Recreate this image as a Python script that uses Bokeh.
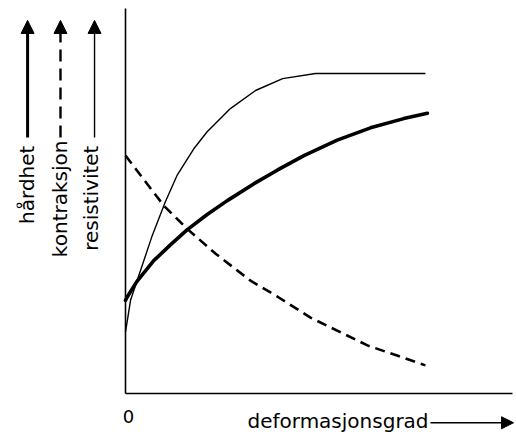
from bokeh.plotting import figure
from bokeh.models import Label, Arrow, NormalHead, FixedTicker, Range1d, LinearAxis
from bokeh.embed import file_html
from bokeh.resources import INLINE

# --- data (arbitrary units 0..10) ---
thin_x = [0.0, 0.04, 0.13, 0.34, 0.69, 1.03, 1.34, 1.76, 2.11, 2.71, 3.36, 4.06, 4.91, 7.75]
thin_y = [1.60, 1.85, 2.42, 3.05, 4.10, 4.98, 5.68, 6.35, 6.80, 7.40, 7.87, 8.18, 8.31, 8.31]

thick_x = [0.0, 0.04, 0.30, 0.73, 1.16, 1.59, 2.11, 2.63, 3.32, 3.92, 4.61, 5.47, 6.33, 7.19, 7.80]
thick_y = [2.42, 2.50, 2.92, 3.45, 3.86, 4.25, 4.65, 5.01, 5.45, 5.80, 6.18, 6.58, 6.90, 7.14, 7.28]

dash_x = [0.0, 0.99, 1.59, 2.33, 3.23, 3.92, 4.78, 6.25, 7.75]
dash_y = [6.18, 4.88, 4.28, 3.63, 2.93, 2.52, 1.97, 1.25, 0.73]

y_labels = ["hårdhet", "kontraksjon", "resistivitet"]
x_label = "deformasjonsgrad"
zero_label = "0"

FONT = "DejaVu Sans"

p = figure(width=516, height=435, output_backend="svg", toolbar_location=None,
           x_range=Range1d(-2.8165, 10.103), y_range=Range1d(-1.0909, 10.052),
           x_axis_location=None, y_axis_location=None,
           min_border_left=16, min_border_right=0, min_border_top=6,
           min_border_bottom=0)
p.outline_line_color = None
p.grid.visible = False
p.background_fill_color = "white"
p.border_fill_color = "white"

yax = LinearAxis(fixed_location=0, bounds=(0, 10), ticker=FixedTicker(ticks=[]))
xax = LinearAxis(fixed_location=0, bounds=(0, 10), ticker=FixedTicker(ticks=[]))
for ax in (xax, yax):
    ax.axis_line_width = 1.6
    ax.axis_line_color = "black"
    ax.major_tick_line_color = None
    ax.minor_tick_line_color = None
    ax.major_tick_out = 0
    ax.major_tick_in = 0
    ax.major_label_standoff = 0
    ax.major_label_text_font_size = "1px"
    ax.major_label_text_color = None
p.add_layout(yax, "left")
p.add_layout(xax, "above")

# curves
p.line(thin_x, thin_y, line_width=1.4, line_color="black", line_join="round")
p.line(thick_x, thick_y, line_width=3.6, line_color="black", line_join="round", line_cap="round")
p.line(dash_x, dash_y, line_width=2.6, line_color="black", line_dash="10 6")

# origin label
p.add_layout(Label(x=0.078, y=-0.60, text=zero_label, text_align="center",
                   text_baseline="alphabetic", text_font=FONT, text_font_size="18px",
                   text_color="black"))

# vertical captions with arrows
cap_x = [-2.558, -1.705, -0.879]
cap_y = [6.44, 6.57, 6.44]
arr_x = [-2.53, -1.68, -0.80]
arr_w = [3.0, 2.4, 1.4]
arr_dash = ["solid", "12 7", "solid"]
for lbl, cx, cy, ax_, w, d in zip(y_labels, cap_x, cap_y, arr_x, arr_w, arr_dash):
    p.add_layout(Label(x=cx, y=cy, text=lbl, angle=1.5708, text_align="right",
                       text_baseline="middle", text_font=FONT, text_font_size="20px",
                       text_color="black"))
    p.add_layout(Arrow(x_start=ax_, y_start=6.65, x_end=ax_, y_end=9.69,
                       line_width=w, line_color="black", line_dash=d,
                       end=NormalHead(size=13, fill_color="black", line_color="black",
                                      line_width=1)))

# horizontal caption with arrow
p.add_layout(Label(x=3.152, y=-0.72, text=x_label, text_align="left",
                   text_baseline="alphabetic", text_font=FONT, text_font_size="20px",
                   text_color="black"))
p.add_layout(Arrow(x_start=7.881, y_start=-0.76, x_end=10.026, y_end=-0.76,
                   line_width=1.4, line_color="black",
                   end=NormalHead(size=12, fill_color="black", line_color="black",
                                  line_width=1)))

open("out.html", "w").write(file_html(p, INLINE))
